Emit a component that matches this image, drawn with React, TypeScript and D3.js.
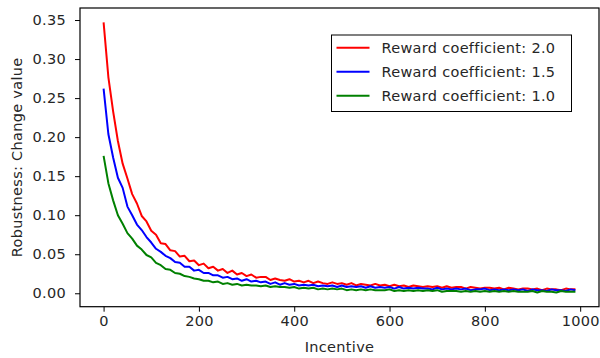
import React, { useEffect, useRef } from 'react'
import * as d3 from 'd3'

// incentive step between samples
const step = 10
const incentive = d3.range(0, 1000, step)

const red = [0.347, 0.277, 0.233, 0.195, 0.166, 0.147, 0.127, 0.115, 0.099, 0.092,
    0.080, 0.075, 0.064, 0.063, 0.055, 0.054, 0.047, 0.048, 0.041, 0.042,
    0.036, 0.038, 0.032, 0.034, 0.029, 0.031, 0.026, 0.029, 0.024, 0.026,
    0.022, 0.024, 0.020, 0.021, 0.021, 0.017, 0.019, 0.017, 0.016, 0.018,
    0.015, 0.016, 0.014, 0.016, 0.013, 0.015, 0.013, 0.012, 0.014, 0.012,
    0.013, 0.011, 0.013, 0.010, 0.012, 0.011, 0.010, 0.012, 0.010, 0.011,
    0.009, 0.011, 0.009, 0.010, 0.008, 0.010, 0.009, 0.008, 0.009, 0.008,
    0.009, 0.007, 0.009, 0.007, 0.008, 0.008, 0.006, 0.008, 0.007, 0.006,
    0.007, 0.007, 0.006, 0.007, 0.005, 0.007, 0.006, 0.005, 0.006, 0.006,
    0.005, 0.006, 0.004, 0.006, 0.005, 0.005, 0.004, 0.006, 0.005, 0.005]

const blue = [0.262, 0.204, 0.174, 0.148, 0.135, 0.111, 0.100, 0.088, 0.081, 0.072,
    0.065, 0.057, 0.053, 0.048, 0.045, 0.040, 0.039, 0.034, 0.034, 0.029,
    0.030, 0.026, 0.026, 0.023, 0.023, 0.020, 0.021, 0.018, 0.019, 0.016,
    0.018, 0.015, 0.016, 0.014, 0.015, 0.012, 0.014, 0.011, 0.013, 0.011,
    0.012, 0.010, 0.011, 0.010, 0.011, 0.009, 0.010, 0.009, 0.010, 0.008,
    0.010, 0.008, 0.009, 0.008, 0.009, 0.007, 0.009, 0.007, 0.008, 0.007,
    0.008, 0.006, 0.008, 0.006, 0.007, 0.006, 0.007, 0.006, 0.006, 0.005,
    0.007, 0.005, 0.006, 0.005, 0.006, 0.005, 0.006, 0.004, 0.005, 0.005,
    0.006, 0.004, 0.005, 0.004, 0.005, 0.004, 0.005, 0.004, 0.005, 0.003,
    0.005, 0.004, 0.004, 0.003, 0.005, 0.004, 0.004, 0.003, 0.005, 0.004]

const green = [0.176, 0.141, 0.119, 0.100, 0.089, 0.077, 0.070, 0.061, 0.056, 0.049,
    0.046, 0.039, 0.036, 0.031, 0.030, 0.026, 0.025, 0.022, 0.021, 0.019,
    0.018, 0.016, 0.016, 0.014, 0.015, 0.012, 0.013, 0.011, 0.012, 0.010,
    0.011, 0.010, 0.010, 0.009, 0.010, 0.008, 0.009, 0.008, 0.008, 0.007,
    0.008, 0.006, 0.007, 0.006, 0.007, 0.005, 0.006, 0.005, 0.006, 0.005,
    0.006, 0.004, 0.005, 0.004, 0.005, 0.004, 0.005, 0.004, 0.004, 0.004,
    0.005, 0.003, 0.004, 0.003, 0.004, 0.003, 0.004, 0.003, 0.004, 0.003,
    0.004, 0.002, 0.003, 0.003, 0.003, 0.002, 0.003, 0.002, 0.003, 0.002,
    0.003, 0.002, 0.003, 0.002, 0.003, 0.002, 0.003, 0.002, 0.002, 0.002,
    0.003, 0.001, 0.003, 0.002, 0.002, 0.001, 0.003, 0.002, 0.002, 0.002]

const seriesNames = ['Reward coefficient: 2.0', 'Reward coefficient: 1.5', 'Reward coefficient: 1.0']
const seriesColors = ['#ff0000', '#0000ff', '#008000']
const xTicks = [0, 200, 400, 600, 800, 1000]
const yTicks = [0, 0.05, 0.1, 0.15, 0.2, 0.25, 0.3, 0.35]

const width = 600
const height = 358
const frame = { left: 80, right: 599, top: 8, bottom: 306.7 }
const font = '"DejaVu Sans", sans-serif'
const fontSize = '14.5px'
const spacing = '0.3px'
const ink = '#262626'

export default function App() {
    const svgNode = useRef(null)

    useEffect(() => {
        const svg = d3.select(svgNode.current)
        svg.selectAll('*').remove()

        const x = d3.scaleLinear()
            .domain([-49.5, 1039.5])
            .range([frame.left, frame.right])
        const y = d3.scaleLinear()
            .domain([-0.0172, 0.3654])
            .range([frame.bottom, frame.top])

        const all = [red, blue, green]
        const line = d3.line()
            .x((d, i) => x(incentive[i]))
            .y(d => y(d))

        all.forEach((vals, k) => {
            svg.append('path')
                .datum(vals)
                .attr('d', line)
                .attr('fill', 'none')
                .attr('stroke', seriesColors[k])
                .attr('stroke-width', 2)
                .attr('stroke-linejoin', 'round')
        })

        // frame
        svg.append('rect')
            .attr('x', frame.left)
            .attr('y', frame.top)
            .attr('width', frame.right - frame.left)
            .attr('height', frame.bottom - frame.top)
            .attr('fill', 'none')
            .attr('stroke', '#000')
            .attr('stroke-width', 1.2)

        const xAxis = svg.append('g')
            .attr('transform', `translate(0,${frame.bottom})`)
            .call(d3.axisBottom(x).tickValues(xTicks).tickSize(5).tickPadding(4).tickFormat(d3.format('d')))
        const yAxis = svg.append('g')
            .attr('transform', `translate(${frame.left},0)`)
            .call(d3.axisLeft(y).tickValues(yTicks).tickSize(5).tickPadding(9).tickFormat(d3.format('.2f')))

        const styleText = sel => sel
            .attr('fill', ink)
            .style('font-family', font)
            .style('font-size', fontSize)
            .style('letter-spacing', spacing)

        ;[xAxis, yAxis].forEach(g => {
            g.select('.domain').remove()
            g.selectAll('line').attr('stroke', '#000').attr('stroke-width', 1)
            styleText(g.selectAll('text'))
        })

        svg.append('text')
            .attr('x', (frame.left + frame.right) / 2)
            .attr('y', 352)
            .attr('text-anchor', 'middle')
            .call(styleText)
            .text('Incentive')

        svg.append('text')
            .attr('transform', `translate(22,${(frame.top + frame.bottom) / 2}) rotate(-90)`)
            .attr('text-anchor', 'middle')
            .call(styleText)
            .text('Robustness: Change value')

        // legend
        const lg = svg.append('g').attr('transform', 'translate(331.5,35)')
        lg.append('rect')
            .attr('width', 240)
            .attr('height', 76.5)
            .attr('fill', '#fff')
            .attr('stroke', '#000')
            .attr('stroke-width', 1)
        seriesNames.forEach((name, k) => {
            const ry = 12.7 + k * 24
            lg.append('line')
                .attr('x1', 5).attr('x2', 38)
                .attr('y1', ry).attr('y2', ry)
                .attr('stroke', seriesColors[k])
                .attr('stroke-width', 2)
            lg.append('text')
                .attr('x', 50)
                .attr('y', ry + 5)
                .call(styleText)
                .text(name)
        })
    }, [])

    return (
        <svg ref={svgNode} width={width} height={height}
            style={{ position: 'absolute', left: 0, top: 0, background: '#fff' }} />
    )
}
